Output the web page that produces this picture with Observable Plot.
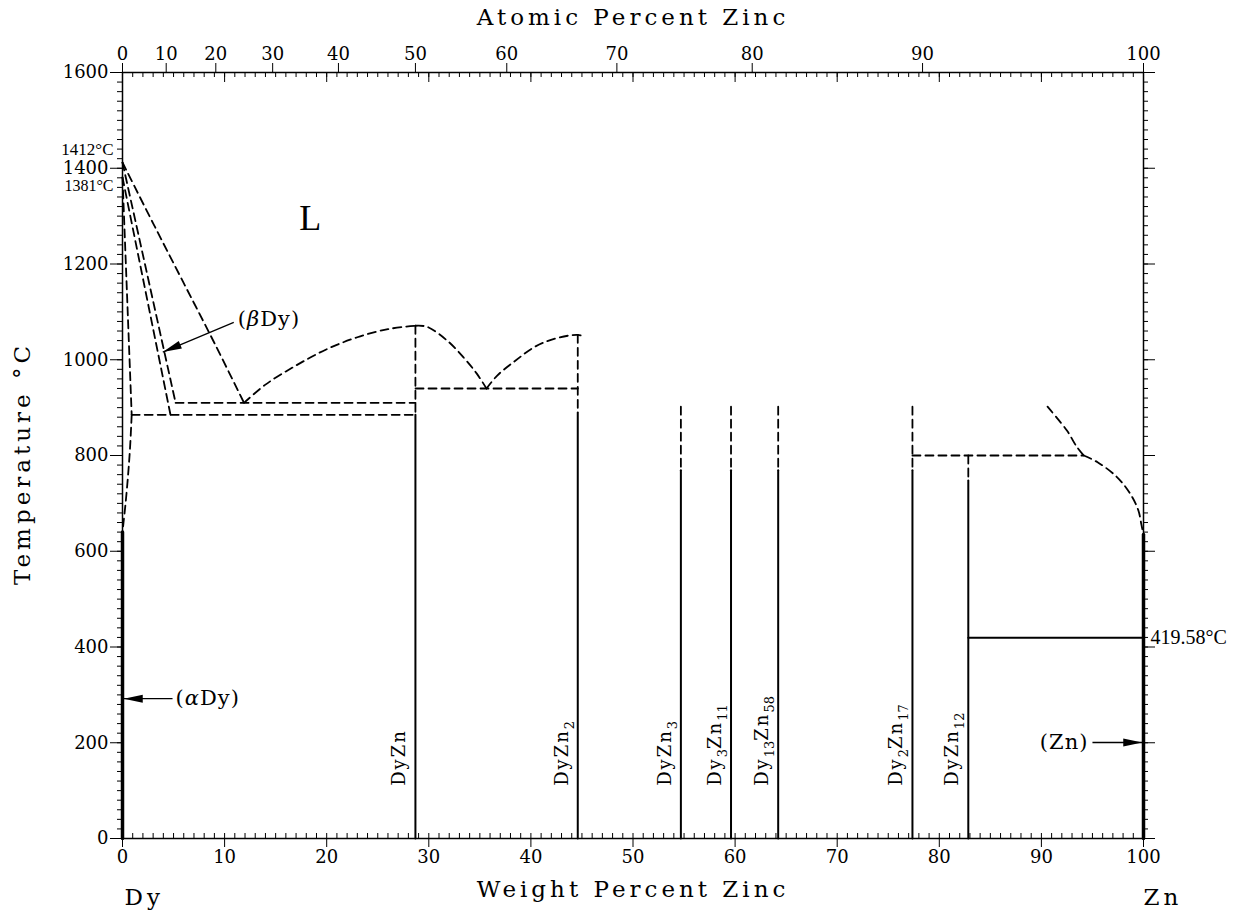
<!DOCTYPE html>
<html><head><meta charset="utf-8">
<script src="https://cdn.jsdelivr.net/npm/d3@7"></script>
<script src="https://cdn.jsdelivr.net/npm/@observablehq/plot@0.6"></script>
<style>
body{margin:0;background:#fff;}
svg{display:block}
g[aria-description="axis-titles"] text{letter-spacing:4px}
g[aria-description="compound-labels"] text{letter-spacing:2px}
g[aria-description="compound-labels"] tspan.sub{letter-spacing:0}
g[aria-description="phase-labels"] text{letter-spacing:1px}
</style></head><body>
<script>
// ---- constants: atomic masses used for the atomic-percent axis
const MASS_DY = 162.5, MASS_ZN = 65.38;
const atToWt = a => 100 * a * MASS_ZN / (a * MASS_ZN + (100 - a) * MASS_DY);

// ---- tick values
const wtTicks = d3.range(0, 101, 10);
const wtMinor = d3.range(0, 101, 1);
const atTicks = d3.range(0, 101, 10);
const tempTicks = d3.range(0, 1601, 200);
const tempMinor = d3.range(0, 1601, 20);

// ---- phase boundaries (wt% Zn, °C), dashed
const liquidusDy = [[0,1412],[3,1285],[6,1160],[9,1035],[11.9,910]];
const solidusBetaDy = [[0,1412],[5.2,910]];
const betaBoundary = [[0,1381],[4.7,885]];
const alphaBoundary = [[0,1381],[0.9,885]];
const alphaSolvus = [[0.9,885],[0.75,820],[0.55,760],[0.3,700],[0.1,660],[0,640]];
const liquidusDyZnLeft = [[11.9,910],[14,948],[17,988],[20,1022],[23,1047],[26,1064],[28.7,1071]];
const liquidusDyZnRight = [[28.7,1071],[29.8,1069],[31.8,1040],[33.4,1005],[34.7,971],[35.65,940]];
const liquidusDyZn2 = [[35.65,940],[36.7,967],[38.3,995],[40.3,1026],[42.2,1043],[44.6,1052],[45.3,1047]];
const liquidusZnUpper = [[90.6,902],[92.5,852],[93.5,817],[94.15,800]];
const liquidusZnLower = [[94.15,800],[95.5,786],[97.4,755],[98.7,720],[99.5,685],[99.8,655],[100,635]];
const eutectoid885 = [[0.9,885],[28.7,885]];
const eutectic910 = [[5.2,910],[28.7,910]];
const eutectic940 = [[28.7,940],[44.6,940]];
const peritectic800 = [[77.37,800],[94.15,800]];

// ---- solid lines
const znEutectic = [[82.84,419.58],[100,419.58]];
const pureDy = [[0,0],[0,640]];
const pureZn = [[100,0],[100,635]];

// ---- compounds
const compoundNames = ["DyZn","DyZn2","DyZn3","Dy3Zn11","Dy13Zn58","Dy2Zn17","DyZn12"];
const compoundWt = [28.69,44.59,54.69,59.60,64.22,77.37,82.84];
const compoundTop = [1071,1052,902,902,902,902,800];
const compoundSolidTop = [885,890,769,769,769,769,748];
const compoundLabelT = 110;

// ---- phase labels and arrows
const phaseLabels = ["(βDy)","(αDy)","(Zn)"];
const phaseLabelX = [11.3, 5.2, 94.6];
const phaseLabelT = [1085, 292, 200.5];
const phaseLabelAnchor = ["start","start","end"];
const arrowFromX = [10.9, 4.9, 95.0];
const arrowFromT = [1078, 292, 200.5];
const arrowToX = [3.95, 0.12, 99.88];
const arrowToT = [1016, 292, 200.5];
const arrowRotate = [-22.9, 0, 180];

const liquidLabel = {text: "L", x: 18.4, t: 1295};
const meltDy = 1412, transDy = 1381, meltZn = 419.58;

// ---- build tables
const toRows = (curves) => curves.flatMap((c, k) => c.map(([x, t]) => ({x, t, k})));
const dashedRows = toRows([liquidusDy, solidusBetaDy, betaBoundary, alphaBoundary, alphaSolvus,
  liquidusDyZnLeft, liquidusDyZnRight, liquidusDyZn2, liquidusZnUpper, liquidusZnLower,
  eutectoid885, eutectic910, eutectic940, peritectic800,
  ...compoundWt.map((w, i) => [[w, compoundTop[i]], [w, compoundSolidTop[i]]])]);
const solidRows = toRows([znEutectic, ...compoundWt.map((w, i) => [[w, compoundSolidTop[i]], [w, 0]])]);
const thickRows = toRows([pureDy, pureZn]);
const compounds = compoundNames.map((n, i) => ({n, x: compoundWt[i], t: compoundLabelT}));
const labels = phaseLabels.map((s, i) => ({s, x: phaseLabelX[i], t: phaseLabelT[i], a: phaseLabelAnchor[i]}));
const arrows = arrowFromX.map((x, i) => ({x1: x, t1: arrowFromT[i], x2: arrowToX[i], t2: arrowToT[i], r: arrowRotate[i]}));
const atPos = atTicks.map(atToWt);
const atLabel = new Map(atPos.map((p, i) => [p, String(atTicks[i])]));

const W = 1248, H = 914, ML = 122, MR = 105, MT = 72, MB = 76;
const PW = W - ML - MR, PH = H - MT - MB;

const arrowHead = {draw(ctx) { ctx.moveTo(0, 0); ctx.lineTo(19, -4); ctx.lineTo(19, 4); ctx.closePath(); }};

const tickFont = "DejaVu Serif";
const chart = Plot.plot({
  width: W, height: H,
  marginLeft: ML, marginRight: MR, marginTop: MT, marginBottom: MB,
  x: {domain: [0, 100]},
  y: {domain: [0, 1600]},
  style: {fontFamily: tickFont, fontSize: "18px", color: "#000", background: "#fff", overflow: "visible"},
  marks: [
    // minor ticks
    Plot.tickX(wtMinor, {x: d => d, insetTop: PH - 5, stroke: "#000", strokeWidth: 1}),
    Plot.tickX(wtMinor, {x: d => d, insetBottom: PH - 5, stroke: "#000", strokeWidth: 1}),
    Plot.tickX(wtTicks, {x: d => d, insetBottom: PH - 10, stroke: "#000", strokeWidth: 1}),
    Plot.tickY(tempMinor, {y: d => d, insetLeft: -5, insetRight: PW, stroke: "#000", strokeWidth: 1}),
    Plot.tickY(tempMinor, {y: d => d, insetLeft: PW, insetRight: -5, stroke: "#000", strokeWidth: 1}),
    Plot.tickY(tempTicks, {y: d => d, insetLeft: PW, insetRight: -12, stroke: "#000", strokeWidth: 1}),
    // axes
    Plot.axisX({anchor: "bottom", ticks: wtTicks, tickSize: 9, tickPadding: 3, tickFormat: d => String(d), label: null, fontSize: 18, strokeWidth: 1}),
    Plot.axisX(atPos, {anchor: "top", tickSize: 10, tickPadding: 3, tickFormat: d => atLabel.get(d), label: null, fontSize: 18, strokeWidth: 1}),
    Plot.axisY({anchor: "left", ticks: tempTicks, tickSize: 12, tickPadding: 2, tickFormat: d => String(d), label: null, fontSize: 18, strokeWidth: 1}),
    Plot.frame({stroke: "#000", strokeWidth: 1.5}),
    // boundaries
    Plot.line(dashedRows, {x: "x", y: "t", z: "k", stroke: "#000", strokeWidth: 1.8, strokeDasharray: "8,5", curve: "catmull-rom"}),
    Plot.line(solidRows, {x: "x", y: "t", z: "k", stroke: "#000", strokeWidth: 2}),
    Plot.line(thickRows, {x: "x", y: "t", z: "k", stroke: "#000", strokeWidth: 3.5}),
    // arrows
    Plot.link(arrows, {x1: "x1", y1: "t1", x2: "x2", y2: "t2", stroke: "#000", strokeWidth: 1.3}),
    Plot.dot(arrows, {x: "x2", y: "t2", symbol: arrowHead, rotate: "r", fill: "#000", stroke: null}),
    // labels
    Plot.text(labels.filter(d => d.a === "start"), {x: "x", y: "t", text: "s", textAnchor: "start", fontSize: 21, ariaDescription: "phase-labels"}),
    Plot.text(labels.filter(d => d.a === "end"), {x: "x", y: "t", text: "s", textAnchor: "end", fontSize: 21, ariaDescription: "phase-labels"}),
    Plot.text([liquidLabel], {x: "x", y: "t", text: "text", fontSize: 36, fontFamily: "Liberation Serif"}),
    Plot.text(compounds, {x: "x", y: "t", text: "n", rotate: -90, textAnchor: "start", lineAnchor: "middle", dx: -16, fontSize: 18, ariaDescription: "compound-labels"}),
    Plot.text([meltDy], {x: 0, y: d => d, text: d => `${d}°C`, textAnchor: "end", dx: -9, dy: -13, fontSize: 17, fontFamily: "Liberation Serif"}),
    Plot.text([transDy], {x: 0, y: d => d, text: d => `${d}°C`, textAnchor: "end", dx: -9, dy: 9, fontSize: 16, fontFamily: "Liberation Serif"}),
    Plot.text([meltZn], {x: 100, y: d => d, text: d => `${d}°C`, textAnchor: "start", dx: 7, fontSize: 20, fontFamily: "Liberation Serif"}),
    // axis titles and element names
    Plot.text(["Atomic Percent Zinc"], {frameAnchor: "top", lineAnchor: "middle", dy: -55, fontSize: 23, ariaDescription: "axis-titles"}),
    Plot.text(["Weight Percent Zinc"], {frameAnchor: "bottom", lineAnchor: "middle", dy: 51, fontSize: 23, ariaDescription: "axis-titles"}),
    Plot.text(["Temperature °C"], {frameAnchor: "left", textAnchor: "middle", lineAnchor: "middle", rotate: -90, dx: -100, dy: 8, fontSize: 23, ariaDescription: "axis-titles"}),
    Plot.text(["Dy"], {frameAnchor: "bottom-left", textAnchor: "start", lineAnchor: "middle", dx: 2, dy: 59, fontSize: 23, ariaDescription: "axis-titles"}),
    Plot.text(["Zn"], {frameAnchor: "bottom-right", textAnchor: "start", lineAnchor: "middle", dx: 0, dy: 59, fontSize: 23, ariaDescription: "axis-titles"})
  ]
});
document.body.appendChild(chart);

// subscripts for compound formulas
d3.select(chart).selectAll('g[aria-description="compound-labels"] text').each(function () {
  const s = this.textContent;
  const el = d3.select(this);
  el.text(null);
  let sub = false;
  (s.match(/[A-Za-z]+|\d+/g) || []).forEach(p => {
    const num = /\d/.test(p);
    const ts = el.append("tspan").text(p);
    if (num) { ts.attr("class", "sub").attr("font-size", "13px"); if (!sub) ts.attr("dy", 6); sub = true; }
    else if (sub) { ts.attr("dy", -6); sub = false; }
  });
});
// italic Greek letters in phase names
d3.select(chart).selectAll('g[aria-description="phase-labels"] text').each(function () {
  const s = this.textContent;
  const el = d3.select(this);
  el.text(null);
  (s.match(/[α-ω]|[^α-ω]+/g) || []).forEach(p => {
    const ts = el.append("tspan").text(p);
    if (/[α-ω]/.test(p)) ts.attr("font-style", "italic");
  });
});
</script>
</body></html>
